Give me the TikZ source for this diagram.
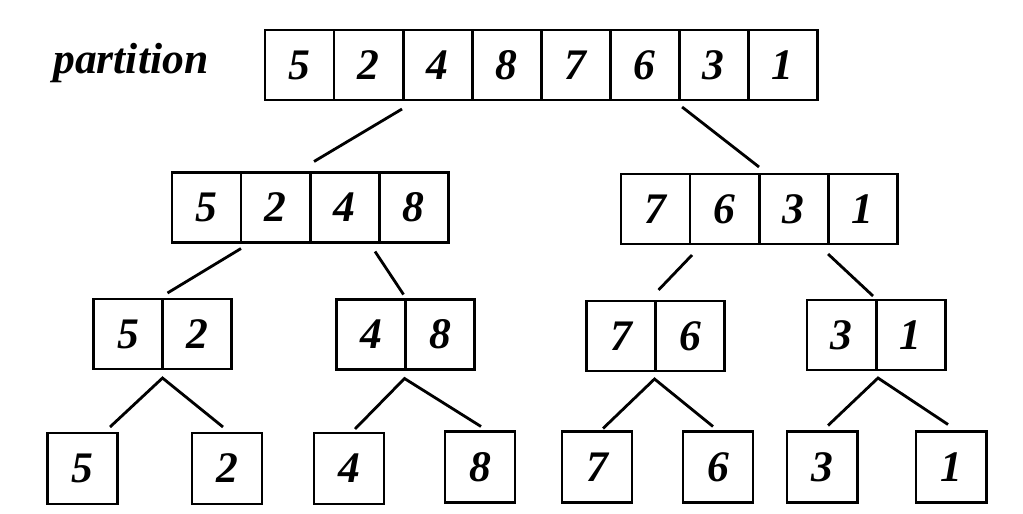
\documentclass[tikz,border=0pt]{standalone}
\usepackage{fontspec}
\setmainfont{Liberation Serif}
\usetikzlibrary{positioning,calc}
\begin{document}
\begin{tikzpicture}[%
    x=0.025cm, y=-0.025cm,
    node distance=0pt,
    numfont/.style={font=\fontsize{31}{36}\selectfont\bfseries\itshape},
    cell/.style={draw, line width=2.1pt, minimum width=1.725cm,
      minimum height=1.75cm, inner sep=0pt, outer sep=0pt, numfont},
    leaf/.style={cell, minimum width=1.75cm, minimum height=1.775cm},
    link/.style={line width=2pt}
  ]
    \useasboundingbox (0,0) rectangle (1023,513);

    \node[numfont, anchor=base west, inner sep=0pt] (title) at (53,73) {partition};

    % whole array
    \node[cell] (a1) at (299.5,65) {5};
    \node[cell] (a2) [right=of a1] {2};
    \node[cell] (a3) [right=of a2] {4};
    \node[cell] (a4) [right=of a3] {8};
    \node[cell] (a5) [right=of a4] {7};
    \node[cell] (a6) [right=of a5] {6};
    \node[cell] (a7) [right=of a6] {3};
    \node[cell] (a8) [right=of a7] {1};

    % halves
    \node[cell] (b1) at (206.5,207.5) {5};
    \node[cell] (b2) [right=of b1] {2};
    \node[cell] (b3) [right=of b2] {4};
    \node[cell] (b4) [right=of b3] {8};

    \node[cell] (c1) at (655.5,209) {7};
    \node[cell] (c2) [right=of c1] {6};
    \node[cell] (c3) [right=of c2] {3};
    \node[cell] (c4) [right=of c3] {1};

    % quarters
    \node[cell] (d1) at (128,334) {5};
    \node[cell] (d2) [right=of d1] {2};
    \node[cell] (e1) at (371,334.5) {4};
    \node[cell] (e2) [right=of e1] {8};
    \node[cell] (f1) at (621,336) {7};
    \node[cell] (f2) [right=of f1] {6};
    \node[cell] (g1) at (841.5,335) {3};
    \node[cell] (g2) [right=of g1] {1};

    % single elements
    \node[leaf] (l5) at (82.5,468.5) {5};
    \node[leaf] (l2) at (227,468.5) {2};
    \node[leaf] (l4) at (349,468.5) {4};
    \node[leaf] (l8) at (480,467) {8};
    \node[leaf] (l7) at (597,467) {7};
    \node[leaf] (l6) at (718,467) {6};
    \node[leaf] (l3) at (822,467) {3};
    \node[leaf] (l1) at (951,467) {1};

    \draw[link] ($(a2.south east)+(-1,9)$) -- ($(b2.north east)+(4,-11)$);
    \draw[link] ($(a6.south east)+(3,7)$) -- ($(c2.north east)+(0,-7)$);

    \draw[link] ($(b1.south east)+(0,6)$) -- ($(d1.north east)+(5,-6)$);
    \draw[link] ($(b3.south east)+(-4,9)$) -- ($(e1.north east)+(-2,-5)$);
    \draw[link] ($(c1.south east)+(2,11)$) -- ($(f1.north east)+(3,-11)$);
    \draw[link] ($(c3.south east)+(0,10)$) -- ($(g1.north east)+(-3,-4)$);

    \draw[link] ($(l5.north)+(27.5,-6)$) -- ($(d1.south east)+(0,9)$) -- ($(l2.north)+(-4,-6)$);
    \draw[link] ($(l4.north)+(6,-4)$) -- ($(e1.south east)+(-1,9)$) -- ($(l8.north)+(1,-5)$);
    \draw[link] ($(l7.north)+(6,-3)$) -- ($(f1.south east)+(-1,8)$) -- ($(l6.north)+(-5,-5)$);
    \draw[link] ($(l3.north)+(6,-6)$) -- ($(g1.south east)+(2,8)$) -- ($(l1.north)+(-3,-7)$);
\end{tikzpicture}
\end{document}
